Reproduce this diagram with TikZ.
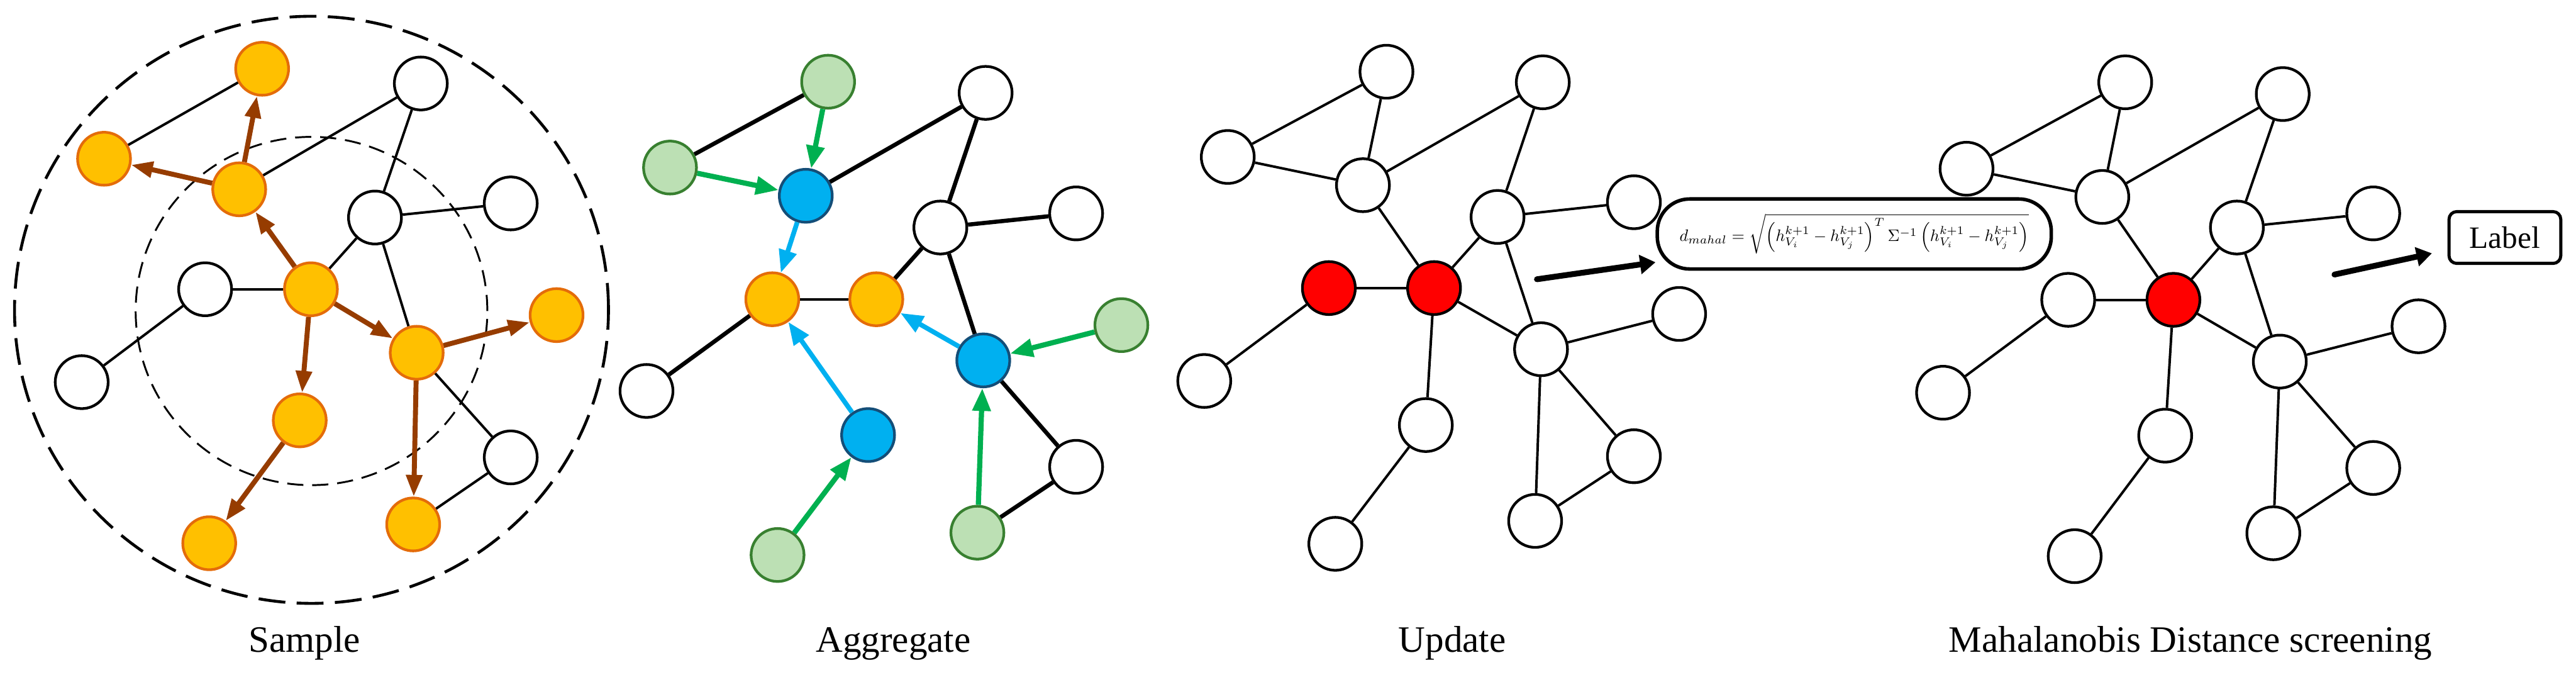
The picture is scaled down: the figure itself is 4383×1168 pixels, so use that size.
\documentclass[tikz,border=0pt]{standalone}
\usepackage{fontspec}
\setmainfont{Liberation Serif}
\usepackage{tikz}
\usetikzlibrary{arrows.meta}
\definecolor{gnorange}{RGB}{228,108,10}
\definecolor{gnorangefill}{RGB}{255,192,0}
\definecolor{gnbrown}{RGB}{150,60,0}
\definecolor{gnblue}{RGB}{20,78,120}
\definecolor{gnbluefill}{RGB}{0,176,240}
\definecolor{gngreen}{RGB}{56,128,48}
\definecolor{gngreenfill}{RGB}{188,224,180}
\definecolor{gnarrowgreen}{RGB}{0,176,80}
\definecolor{gnred}{RGB}{255,0,0}
\tikzset{
  vertex/.style    = {circle, draw=black, line width=1.3pt, fill=white,
                      minimum size=9mm, inner sep=0pt},
  seed/.style      = {vertex, draw=gnorange, fill=gnorangefill},
  source/.style    = {vertex, draw=gngreen, fill=gngreenfill},
  hub/.style       = {vertex, draw=gnblue, fill=gnbluefill},
  target/.style    = {vertex, fill=gnred},
  outerring/.style = {draw=black, line width=1.4pt, dash pattern=on 13pt off 5.5pt},
  innerring/.style = {draw=black, line width=0.9pt, dash pattern=on 7.8pt off 4.3pt},
  link/.style      = {draw=black, line width=1.2pt},
  boldlink/.style  = {draw=black, line width=2pt},
  hop/.style       = {-{Triangle[length=10.5pt,width=7.5pt]}, line width=2.4pt, draw=gnbrown},
  pull/.style      = {-{Triangle[length=11pt,width=8.5pt]}, line width=2.5pt, draw=gnarrowgreen},
  pass/.style      = {-{Triangle[length=11pt,width=8.5pt]}, line width=2.3pt, draw=gnbluefill},
  jump/.style      = {-{Triangle[length=7.5pt,width=9pt]}, line width=2.8pt, draw=black,
                      line cap=round},
  formbox/.style   = {rectangle, rounded corners=5.5mm, draw=black, line width=1.7pt,
                      fill=white, minimum width=67mm, minimum height=11.9mm, inner sep=0pt},
  labelbox/.style  = {rectangle, rounded corners=1.3mm, draw=black, line width=1.5pt,
                      fill=white, minimum width=19mm, minimum height=8.8mm, inner sep=0pt,
                      font=\fontsize{15}{17}\selectfont},
  caption/.style   = {anchor=base, font=\fontsize{18}{20}\selectfont},
}

\begin{document}
\begin{tikzpicture}[x=0.01cm, y=-0.01cm]
  \useasboundingbox (0,0) rectangle (4383,1168);

  \draw[outerring] (530,527) ellipse [x radius=5.05cm, y radius=4.99cm];
  \draw[innerring] (530,529) ellipse [x radius=2.99cm, y radius=2.96cm];

  \node[seed] (c) at (529,492) {};
  \node[seed] (o1) at (407,322) {};
  \node[seed] (o2) at (446,117) {};
  \node[seed] (o3) at (177,270) {};
  \node[seed] (o4) at (709,600) {};
  \node[seed] (o5) at (947,536) {};
  \node[seed] (o6) at (510,715) {};
  \node[seed] (o7) at (356,924) {};
  \node[seed] (o8) at (703,892) {};
  \node[vertex] (w1) at (349,492) {};
  \node[vertex] (w2) at (139,650) {};
  \node[vertex] (w3) at (638,370) {};
  \node[vertex] (w4) at (716,142) {};
  \node[vertex] (w5) at (869,346) {};
  \node[vertex] (w6) at (869,778) {};
  \draw[link] (o3)--(o2); \draw[link] (o1)--(w4); \draw[link] (w4)--(w3); \draw[link] (w3)--(w5);
  \draw[link] (w3)--(c); \draw[link] (w3)--(o4); \draw[link] (w1)--(c); \draw[link] (w1)--(w2);
  \draw[link] (o4)--(w6); \draw[link] (w6)--(o8);
  \draw[hop] (c)--(o1); \draw[hop] (o1)--(o2); \draw[hop] (o1)--(o3); \draw[hop] (c)--(o4);
  \draw[hop] (c)--(o6); \draw[hop] (o4)--(o5); \draw[hop] (o4)--(o8); \draw[hop] (o6)--(o7);
  \node[caption] (sample) at (518,1109) {Sample};

  \node[source] (g1) at (1409,139) {};
  \node[source] (g2) at (1140,285) {};
  \node[source] (g3) at (1323,944) {};
  \node[source] (g4) at (1908,553) {};
  \node[source] (g5) at (1663,906) {};
  \node[hub] (b1) at (1371,333) {};
  \node[hub] (b2) at (1477,740) {};
  \node[hub] (b3) at (1673,613) {};
  \node[seed] (y1) at (1314,509) {};
  \node[seed] (y2) at (1491,509) {};
  \node[vertex] (p1) at (1100,665) {};
  \node[vertex] (p2) at (1831,794) {};
  \node[vertex] (p3) at (1600,387) {};
  \node[vertex] (p4) at (1677,158) {};
  \node[vertex] (p5) at (1831,363) {};
  \draw[boldlink] (g2)--(g1); \draw[boldlink] (b1)--(p4); \draw[boldlink] (p4)--(p3);
  \draw[boldlink] (p3)--(p5); \draw[boldlink] (p3)--(y2); \draw[boldlink] (p3)--(b3);
  \draw[boldlink] (y1)--(p1); \draw[boldlink] (b3)--(p2); \draw[boldlink] (p2)--(g5);
  \draw[link] (y1)--(y2);
  \draw[pull] (g1)--(b1); \draw[pull] (g2)--(b1); \draw[pull] (g3)--(b2);
  \draw[pull] (g4)--(b3); \draw[pull] (g5)--(b3);
  \draw[pass] (b1)--(y1); \draw[pass] (b2)--(y1); \draw[pass] (b3)--(y2);
  \node[caption] (aggregate) at (1520,1109) {Aggregate};

  \node[target] (r1) at (2261,490) {};
  \node[target] (r2) at (2440,490) {};
  \node[vertex] (u1) at (2359,122) {};
  \node[vertex] (u2) at (2089,267) {};
  \node[vertex] (u3) at (2319,315) {};
  \node[vertex] (u4) at (2625,140) {};
  \node[vertex] (u5) at (2548,369) {};
  \node[vertex] (u6) at (2780,344) {};
  \node[vertex] (u7) at (2049,648) {};
  \node[vertex] (u8) at (2426,723) {};
  \node[vertex] (u9) at (2622,594) {};
  \node[vertex] (u10) at (2857,534) {};
  \node[vertex] (u11) at (2780,776) {};
  \node[vertex] (u12) at (2612,886) {};
  \node[vertex] (u13) at (2272,925) {};
  \draw[link] (u2)--(u1); \draw[link] (u1)--(u3); \draw[link] (u2)--(u3); \draw[link] (u3)--(u4);
  \draw[link] (u3)--(r2); \draw[link] (u4)--(u5); \draw[link] (u5)--(u6); \draw[link] (u5)--(r2);
  \draw[link] (u5)--(u9); \draw[link] (r1)--(r2); \draw[link] (r1)--(u7); \draw[link] (r2)--(u8);
  \draw[link] (r2)--(u9); \draw[link] (u9)--(u10); \draw[link] (u9)--(u12); \draw[link] (u9)--(u11);
  \draw[link] (u11)--(u12); \draw[link] (u8)--(u13);
  \node[caption] (update) at (2471,1109) {Update};

  \node[formbox] (fbox) at (3155,398)
    {\resizebox{5.94cm}{!}{$d_{mahal}=\sqrt{\left(h_{V_i}^{k+1}-h_{V_j}^{k+1}\right)^{T}\Sigma^{-1}\left(h_{V_i}^{k+1}-h_{V_j}^{k+1}\right)}$}};
  \coordinate (t3) at (2615,475);
  \draw[jump] (t3)--(fbox);

  \node[target] (s) at (3698,510) {};
  \node[vertex] (v1) at (3616,140) {};
  \node[vertex] (v2) at (3346,287) {};
  \node[vertex] (v3) at (3577,335) {};
  \node[vertex] (v4) at (3884,160) {};
  \node[vertex] (v5) at (3806,387) {};
  \node[vertex] (v6) at (4038,363) {};
  \node[vertex] (v7) at (3519,510) {};
  \node[vertex] (v8) at (3306,668) {};
  \node[vertex] (v9) at (3684,741) {};
  \node[vertex] (v10) at (3879,615) {};
  \node[vertex] (v11) at (4115,555) {};
  \node[vertex] (v12) at (4038,796) {};
  \node[vertex] (v13) at (3868,907) {};
  \node[vertex] (v14) at (3530,946) {};
  \draw[link] (v2)--(v1); \draw[link] (v1)--(v3); \draw[link] (v2)--(v3); \draw[link] (v3)--(v4);
  \draw[link] (v3)--(s); \draw[link] (v4)--(v5); \draw[link] (v5)--(v6); \draw[link] (v5)--(s);
  \draw[link] (v5)--(v10); \draw[link] (v7)--(s); \draw[link] (v7)--(v8); \draw[link] (s)--(v9);
  \draw[link] (s)--(v10); \draw[link] (v10)--(v11); \draw[link] (v10)--(v13); \draw[link] (v10)--(v12);
  \draw[link] (v12)--(v13); \draw[link] (v9)--(v14);
  \node[caption] (screen) at (3727,1109) {Mahalanobis Distance screening};

  \node[labelbox] (lbl) at (4262,404) {Label};
  \coordinate (t4) at (3972,467);
  \draw[jump, shorten >=2.7mm] (t4)--(lbl);
\end{tikzpicture}
\end{document}
